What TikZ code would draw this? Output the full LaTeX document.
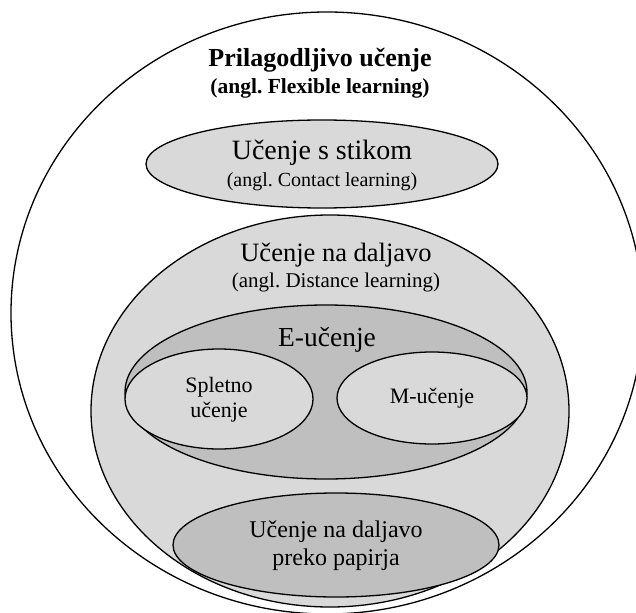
\documentclass[tikz,border=0pt]{standalone}
\usepackage{fontspec}
\setmainfont{Liberation Serif}
\usetikzlibrary{positioning}
\frenchspacing
\begin{document}
\begin{tikzpicture}[x=1pt,y=-1pt,line width=1.3pt,
	light/.style={fill=black!15,draw=black},
	dark/.style={fill=black!25,draw=black},
	big/.style={inner sep=0pt,font=\fontsize{26.5}{29}\selectfont},
	small/.style={inner sep=0pt,font=\fontsize{21}{25}\selectfont},
	head/.style={inner sep=0pt,font=\bfseries\fontsize{26}{29}\selectfont}]
	\clip (0,0) rectangle (636,612);
	\fill[white] (0,0) rectangle (636,612);
	\draw (327,313) ellipse [x radius=316,y radius=301];
	\filldraw[light] (322,164) ellipse [x radius=176,y radius=44];
	\filldraw[light] (330,411) ellipse [x radius=239,y radius=196];
	\filldraw[dark] (326,392) ellipse [x radius=201,y radius=87];
	\filldraw[light] (219,399) ellipse [x radius=94,y radius=50];
	\filldraw[light] (432,398) ellipse [x radius=95,y radius=46];
	\filldraw[dark] (336,545) ellipse [x radius=163,y radius=52];

	\node[head] (flex) at (320,60) {Prilagodljivo učenje};
	\node[head,font=\bfseries\fontsize{21.5}{25}\selectfont,below=5pt of flex] (flexsub) {(angl. Flexible learning)};
	\node[big,font=\fontsize{28}{31}\selectfont] (stik) at (322,153) {Učenje s stikom};
	\node[small,font=\fontsize{20}{24}\selectfont,below=6pt of stik] (stiksub) {(angl. Contact learning)};
	\node[big] (dalj) at (336,255) {Učenje na daljavo};
	\node[small,below=5pt of dalj] (daljsub) {(angl. Distance learning)};
	\node[big,font=\fontsize{27.5}{30}\selectfont] (eucenje) at (327,340) {E-učenje};
	\node[small,align=center,font=\fontsize{22}{25}\selectfont] (splet) at (219,400) {Spletno\\učenje};
	\node[small,font=\fontsize{22}{25}\selectfont] (mucenje) at (432,398) {M-učenje};
	\node[big,align=center,font=\fontsize{24}{28}\selectfont] (papir) at (336,546) {Učenje na daljavo\\preko papirja};
\end{tikzpicture}
\end{document}
